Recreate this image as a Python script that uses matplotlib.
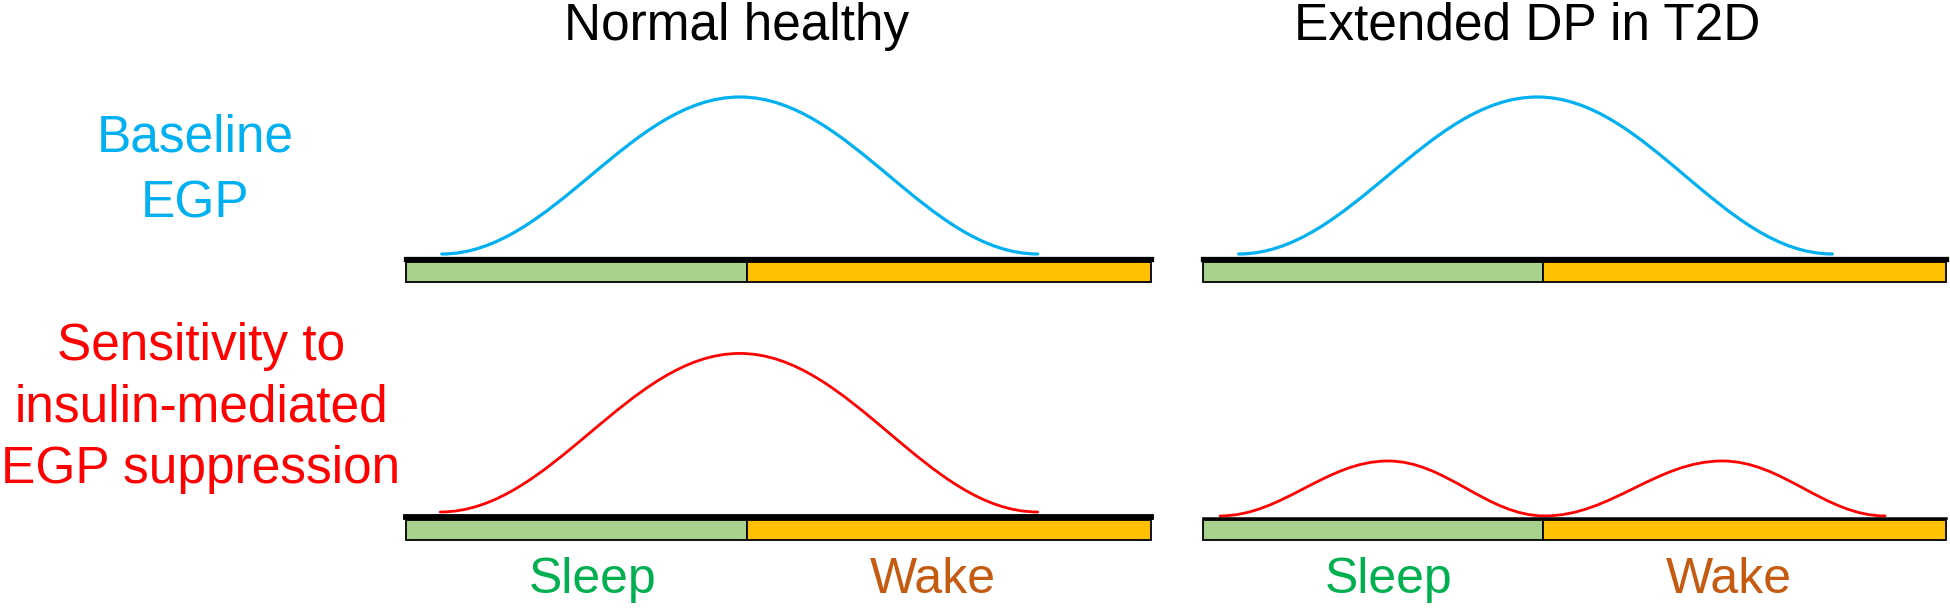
import matplotlib
matplotlib.use('Agg')
import matplotlib.pyplot as plt
from matplotlib.path import Path
from matplotlib.patches import PathPatch

plt.rcParams['font.family'] = ['Liberation Sans', 'DejaVu Sans']

# column titles / row labels
col_titles = ['Normal healthy', 'Extended DP in T2D']
row_labels = [['Baseline', 'EGP'],
              ['Sensitivity to', 'insulin-mediated', 'EGP suppression']]
phase_labels = ['Sleep', 'Wake']

# fraction of the day bar that is sleep
phase_starts = [0.0, 0.458]
phase_widths = [0.458, 0.542]

# curve knots (x along the bar 0..1, y relative height; base, peak, base ...)
egp_normal_x = [0.048, 0.448, 0.848]
egp_normal_y = [0.0, 1.0, 0.0]
egp_t2d_x = [0.048, 0.450, 0.847]
egp_t2d_y = [0.0, 1.0, 0.0]
sens_normal_x = [0.046, 0.448, 0.848]
sens_normal_y = [0.0, 1.01, 0.0]
sens_t2d_x = [0.023, 0.249, 0.460, 0.699, 0.918]
sens_t2d_y = [-0.025, 0.325, -0.025, 0.325, -0.025]

BLUE = '#00B0F0'
RED = '#FF0000'
GREEN_BAR = '#A9D18E'
ORANGE_BAR = '#FFC000'
GREEN_TXT = '#00B050'
ORANGE_TXT = '#C55A11'

W, H = 1950, 609


def bump_path(xs, ys):
    # smooth bell segments between knots, flat tangent at every knot
    verts = [(xs[0], ys[0])]
    codes = [Path.MOVETO]
    for i in range(1, len(xs)):
        dx = xs[i] - xs[i - 1]
        verts += [(xs[i - 1] + 0.37 * dx, ys[i - 1]),
                  (xs[i] - 0.37 * dx, ys[i]),
                  (xs[i], ys[i])]
        codes += [Path.CURVE4] * 3
    return Path(verts, codes)


def draw_panel(ax, xs, ys, color, lw, top_lw, top_y):
    ax.set_xlim(0, 1)
    ax.set_ylim(-0.2, 1.1)
    ax.axis('off')
    ax.barh(-0.115, phase_widths, left=phase_starts, height=0.13,
            color=[GREEN_BAR, ORANGE_BAR], edgecolor='black', linewidth=1.3,
            clip_on=False)
    ax.axhline(top_y, color='black', lw=top_lw, clip_on=False)
    ax.add_patch(PathPatch(bump_path(xs, ys), facecolor='none',
                           edgecolor=color, lw=lw, capstyle='round',
                           clip_on=False))


fig = plt.figure(figsize=(W / 100, H / 100), dpi=100)

col_x = [(406, 745), (1203, 743)]
row_y = [285.4, 543.4]  # pixel of axes bottom
ax_h = 204.1

axes = {}
for r in range(2):
    for c in range(2):
        x0, w = col_x[c]
        axes[r, c] = fig.add_axes([x0 / W, (H - row_y[r]) / H, w / W, ax_h / H])

draw_panel(axes[0, 0], egp_normal_x, egp_normal_y, BLUE, 2.3, 3.8, -0.033)
draw_panel(axes[0, 1], egp_t2d_x, egp_t2d_y, BLUE, 2.3, 3.8, -0.033)
draw_panel(axes[1, 0], sens_normal_x, sens_normal_y, RED, 2.0, 4.2, -0.033)
draw_panel(axes[1, 1], sens_t2d_x, sens_t2d_y, RED, 2.0, 1.8, -0.038)

# titles
fig.text(737 / W, (H - 40) / H, col_titles[0], ha='center', va='baseline',
         fontsize=37, color='black')
fig.text(1527 / W, (H - 40) / H, col_titles[1], ha='center', va='baseline',
         fontsize=37, color='black')

# row labels
for txt, yb in zip(row_labels[0], [152, 218]):
    fig.text(195 / W, (H - yb) / H, txt, ha='center', va='baseline',
             fontsize=37, color=BLUE)
for txt, yb in zip(row_labels[1], [360, 422, 483]):
    fig.text(201 / W, (H - yb) / H, txt, ha='center', va='baseline',
             fontsize=37, color=RED)

# sleep / wake under the bottom bars
for c in range(2):
    ax = axes[1, c]
    x0, w = col_x[c]
    for lab, fx, col in zip(phase_labels, [0.25, 0.707], [GREEN_TXT, ORANGE_TXT]):
        fig.text((x0 + fx * w) / W, (H - 593) / H, lab, ha='center',
                 va='baseline', fontsize=36, color=col)

fig.savefig('out.png', dpi=100)
